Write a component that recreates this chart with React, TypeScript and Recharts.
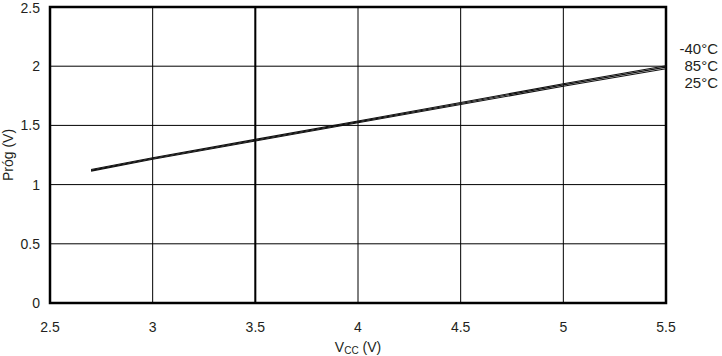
import React from 'react';
import { LineChart, Line, XAxis, YAxis, CartesianGrid, ReferenceArea, ReferenceLine, Customized } from 'recharts';

const vcc = [2.7, 3.0, 3.5, 4.0, 4.5, 5.0, 5.5];
const progM40 = [1.127, 1.227, 1.382, 1.537, 1.693, 1.852, 2.004];
const prog85 = [1.12, 1.22, 1.375, 1.53, 1.685, 1.842, 1.992];
const prog25 = [1.114, 1.214, 1.368, 1.522, 1.676, 1.831, 1.978];
const xTicks = [2.5, 3, 3.5, 4, 4.5, 5, 5.5];
const yTicks = [0, 0.5, 1, 1.5, 2, 2.5];
const seriesLabels = ['-40°C', '85°C', '25°C'];

const data = vcc.map((v, i) => ({ vcc: v, m40: progM40[i], p85: prog85[i], p25: prog25[i] }));

const FONT = '"Liberation Sans", Arial, Helvetica, sans-serif';
const TXT = '#231f20';

const XLabel = (props: any) => {
  const vb = props.viewBox || {};
  const cx = vb.x + vb.width / 2;
  return (
    <text x={cx} y={352} textAnchor="middle" fontFamily={FONT} fontSize={14} fill={TXT}>
      V<tspan fontSize={10} dy={2}>CC</tspan>
      <tspan dy={-2}> (V)</tspan>
    </text>
  );
};

const YLabel = (props: any) => {
  const vb = props.viewBox || {};
  const cy = vb.y + vb.height / 2;
  return (
    <text x={13} y={cy} transform={`rotate(-90 13 ${cy})`} textAnchor="middle" fontFamily={FONT} fontSize={14} fill={TXT}>
      Próg (V)
    </text>
  );
};

const SeriesNames = () => (
  <g>
    {seriesLabels.map((s, i) => (
      <text key={s} x={718} y={54 + i * 17} textAnchor="end" fontFamily={FONT} fontSize={15} fill={TXT}>
        {s}
      </text>
    ))}
  </g>
);

export default function App() {
  return (
    <div style={{ position: 'fixed', left: 0, top: 0, width: 722, height: 356, background: '#fff' }}>
      <LineChart width={722} height={356} data={data} margin={{ top: 7, right: 56, bottom: 0, left: 0 }}>
        <CartesianGrid stroke="#000" strokeWidth={1} />
        <XAxis
          dataKey="vcc"
          type="number"
          domain={[2.5, 5.5]}
          ticks={xTicks}
          tickFormatter={(v: number) => String(v)}
          axisLine={false}
          tickLine={false}
          tickMargin={13}
          height={53}
          tick={{ fontFamily: FONT, fontSize: 14, fill: TXT }}
          label={<XLabel />}
        />
        <YAxis
          type="number"
          domain={[0, 2.5]}
          ticks={yTicks}
          tickFormatter={(v: number) => String(v)}
          axisLine={false}
          tickLine={false}
          tickMargin={4}
          width={50}
          tick={{ fontFamily: FONT, fontSize: 14, fill: TXT }}
          label={<YLabel />}
        />
        <ReferenceLine x={3.5} stroke="#000" strokeWidth={2} />
        <Line dataKey="m40" stroke="#111" strokeWidth={1.1} dot={false} isAnimationActive={false} />
        <Line dataKey="p85" stroke="#111" strokeWidth={1.1} dot={false} isAnimationActive={false} />
        <Line dataKey="p25" stroke="#111" strokeWidth={1.1} dot={false} isAnimationActive={false} />
        <ReferenceArea x1={2.5} x2={5.5} y1={0} y2={2.5} fill="none" fillOpacity={0} stroke="#000" strokeWidth={2.5} ifOverflow="visible" />
        <Customized component={SeriesNames} />
      </LineChart>
    </div>
  );
}
